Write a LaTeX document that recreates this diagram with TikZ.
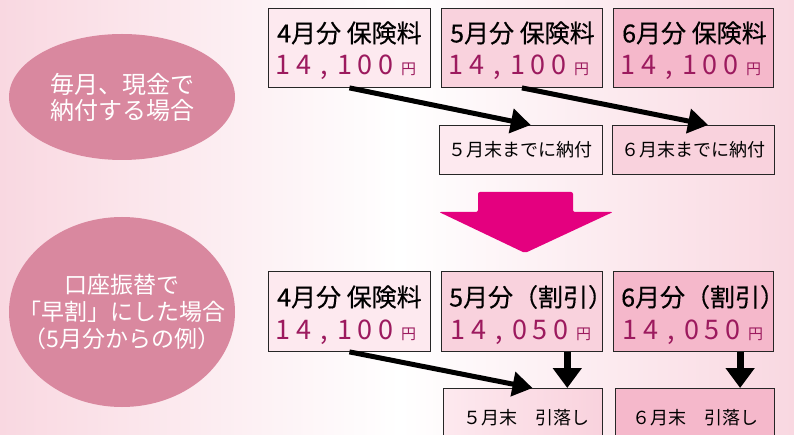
\documentclass[tikz,border=0pt]{standalone}
\usepackage{fontspec}
\setmainfont{Noto Sans CJK JP}
\newfontfamily\boldishfont[FakeBold=0.4]{Noto Sans CJK JP}
\usetikzlibrary{arrows.meta,shapes.geometric,calc}
\definecolor{bgpink}{HTML}{F9D8E1}
\definecolor{ellc}{HTML}{D9889F}
\definecolor{pk1}{HTML}{FDE9EF}
\definecolor{pk2}{HTML}{F9D2DD}
\definecolor{pk3}{HTML}{F5B8CB}
\definecolor{amt}{HTML}{9C1A5E}
\definecolor{mag}{HTML}{E4007F}
\newcommand\dcell[1]{\makebox[20.5pt]{#1}}
\newcommand\amtline[6]{{\fontsize{27}{27}\selectfont\dcell{#1}\dcell{#2}\dcell{,}\dcell{#4}\dcell{#5}\dcell{#6}}\hspace{5pt}{\fontsize{15}{15}\selectfont 円}}
\tikzset{
  box/.style={draw=black!85, line width=0.9pt, anchor=north west, inner sep=0pt},
  bigbox/.style={box, minimum width=162pt, minimum height=79pt},
  smallbox/.style={box, minimum width=162pt, minimum height=49pt},
  ttl/.style={anchor=west, inner sep=0pt, font=\boldishfont\fontsize{25}{25}\selectfont, text=black},
  amtx/.style={anchor=west, inner sep=0pt, text=amt},
  smalltxt/.style={inner sep=0pt, font=\fontsize{18}{18}\selectfont, text=black},
  ell/.style={ellipse, fill=ellc, inner sep=0pt},
  elltxt/.style={inner sep=0pt, text=white, align=center},
  thickarrow/.style={line width=5pt, -{Triangle[length=20pt,width=24pt]}},
  vertarrow/.style={line width=7pt, -{Triangle[length=20pt,width=28pt]}},
}
\begin{document}
\begin{tikzpicture}[x=1pt,y=-1pt]
\useasboundingbox (0,0) rectangle (794,435);
\clip (0,0) rectangle (794,435);
\shade[left color=bgpink, right color=white] (0,0) rectangle (400,435);
\shade[left color=white, right color=bgpink] (400,0) rectangle (794,435);

% ellipses
\node[ell, minimum width=226pt, minimum height=126pt] (e1) at (122,97) {};
\node[elltxt, font=\fontsize{24}{26}\selectfont] (e1t) at (e1.center) {毎月、現金で\\納付する場合};
\node[ell, minimum width=226pt, minimum height=190pt] (e2) at (122,312) {};
\node[elltxt, font=\fontsize{23}{27}\selectfont] (e2t) at (e2.center) {口座振替で\\「早割」にした場合\\（5月分からの例）};

% top row
\node[bigbox, fill=pk1] (b1) at (268,8) {};
\node[bigbox, fill=pk2, minimum width=161pt] (b2) at (441,8) {};
\node[bigbox, fill=pk3, minimum width=160pt] (b3) at (613,8) {};
\node[ttl] (b1t) at ($(b1.north west)+(9,25)$) {4月分 保険料};
\node[ttl] (b2t) at ($(b2.north west)+(9,25)$) {5月分 保険料};
\node[ttl] (b3t) at ($(b3.north west)+(9,25)$) {6月分 保険料};
\node[amtx] (b1a) at ($(b1.north west)+(5,59)$) {\amtline14,100};
\node[amtx] (b2a) at ($(b2.north west)+(5,59)$) {\amtline14,100};
\node[amtx] (b3a) at ($(b3.north west)+(5,59)$) {\amtline14,100};

\node[smallbox, fill=pk1, minimum width=163pt] (s1) at (439,125) {};
\node[smallbox, fill=pk2] (s2) at (612,125) {};
\node[smalltxt] (s1t) at ($(s1.center)+(0,0)$) {５月末までに納付};
\node[smalltxt] (s2t) at ($(s2.center)+(0,0)$) {６月末までに納付};

\draw[thickarrow] (b1.south) -- ($(s1.north west)!0.56!(s1.north east)$);
\draw[thickarrow] (b2.south) -- ($(s2.north west)!0.59!(s2.north east)$);

% big arrow
\fill[mag, rounded corners=2pt] (478,192) -- (573,192) -- (573,212) -- (613,212) -- (525,253) -- (439,212) -- (478,212) -- cycle;

% bottom row
\node[bigbox, fill=pk1, minimum height=80pt] (c1) at (268,271) {};
\node[bigbox, fill=pk2, minimum height=80pt, minimum width=161pt] (c2) at (441,271) {};
\node[bigbox, fill=pk3, minimum height=80pt, minimum width=160pt] (c3) at (613,271) {};
\node[ttl] (c1t) at ($(c1.north west)+(9,26)$) {4月分 保険料};
\node[ttl] (c2t) at ($(c2.north west)+(8,26)$) {5月分（割引）};
\node[ttl] (c3t) at ($(c3.north west)+(8,26)$) {6月分（割引）};
\node[amtx] (c1a) at ($(c1.north west)+(5,61)$) {\amtline14,100};
\node[amtx] (c2a) at ($(c2.north west)+(7,61)$) {\amtline14,050};
\node[amtx] (c3a) at ($(c3.north west)+(7,61)$) {\amtline14,050};

\node[box, left color=pk1, right color=pk2, minimum width=159pt, minimum height=60pt] (t1) at (443,388) {};
\node[box, fill=pk3, minimum width=159pt, minimum height=60pt] (t2) at (615,388) {};
\node[smalltxt] (t1t) at (526,418) {５月末　引落し};
\node[smalltxt] (t2t) at (695,418) {６月末　引落し};

\draw[thickarrow] (c1.south) -- ($(t1.north west)!0.56!(t1.north east)$);
\coordinate (v1) at ($(c2.south west)!0.78!(c2.south east)$);
\coordinate (v2) at ($(c3.south west)!0.79!(c3.south east)$);
\draw[vertarrow] (v1) -- (v1 |- t1.north);
\draw[vertarrow] (v2) -- (v2 |- t2.north);
\end{tikzpicture}
\end{document}
